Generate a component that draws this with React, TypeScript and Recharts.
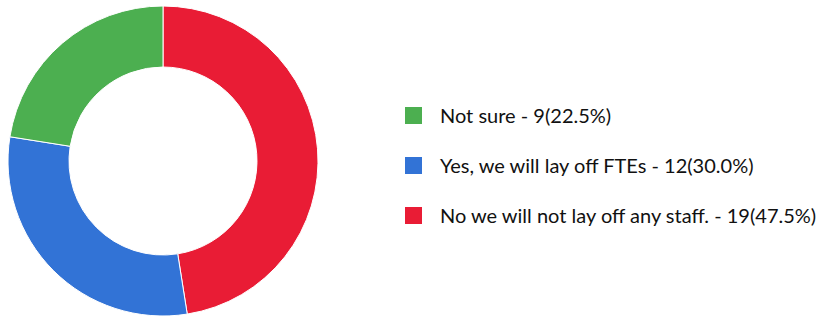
import { Cell, Legend, Pie, PieChart } from "recharts";

// Donut of layoff intentions, with a count/percent legend on the right.

const labels = ["No we will not lay off any staff.", "Yes, we will lay off FTEs", "Not sure"];
const counts = [19, 12, 9];
const colors = ["#E91C35", "#3273D6", "#4CAF50"];
// legend lists the slices in reverse order
const legendOrder = [2, 1, 0];

const total = counts.reduce((a, b) => a + b, 0);
const data = labels.map((name, i) => ({ name, value: counts[i] }));

function LegendBox() {
  return (
    <div style={{ fontFamily: "Lato, sans-serif", fontSize: 20, color: "#111" }}>
      {legendOrder.map((i) => (
        <div key={labels[i]} style={{ display: "flex", alignItems: "center", height: 50 }}>
          <span
            style={{
              display: "inline-block",
              width: 17,
              height: 17,
              background: colors[i],
              marginRight: 18,
            }}
          />
          <span>
            {labels[i]} - {counts[i]}({((counts[i] / total) * 100).toFixed(1)}%)
          </span>
        </div>
      ))}
    </div>
  );
}

export default function App() {
  return (
    <div style={{ position: "absolute", left: 0, top: 0, background: "#fff" }}>
      <PieChart width={828} height={318} margin={{ top: 0, right: 0, bottom: 0, left: 0 }}>
        <Pie
          data={data}
          dataKey="value"
          nameKey="name"
          cx={163}
          cy={161}
          innerRadius={94}
          outerRadius={155}
          startAngle={90}
          endAngle={-270}
          stroke="#fff"
          strokeWidth={1}
          isAnimationActive={false}
        >
          {data.map((d, i) => (
            <Cell key={d.name} fill={colors[i]} />
          ))}
        </Pie>
        <Legend
          content={() => <LegendBox />}
          wrapperStyle={{ left: 405, top: 90, width: 423 }}
        />
      </PieChart>
    </div>
  );
}
